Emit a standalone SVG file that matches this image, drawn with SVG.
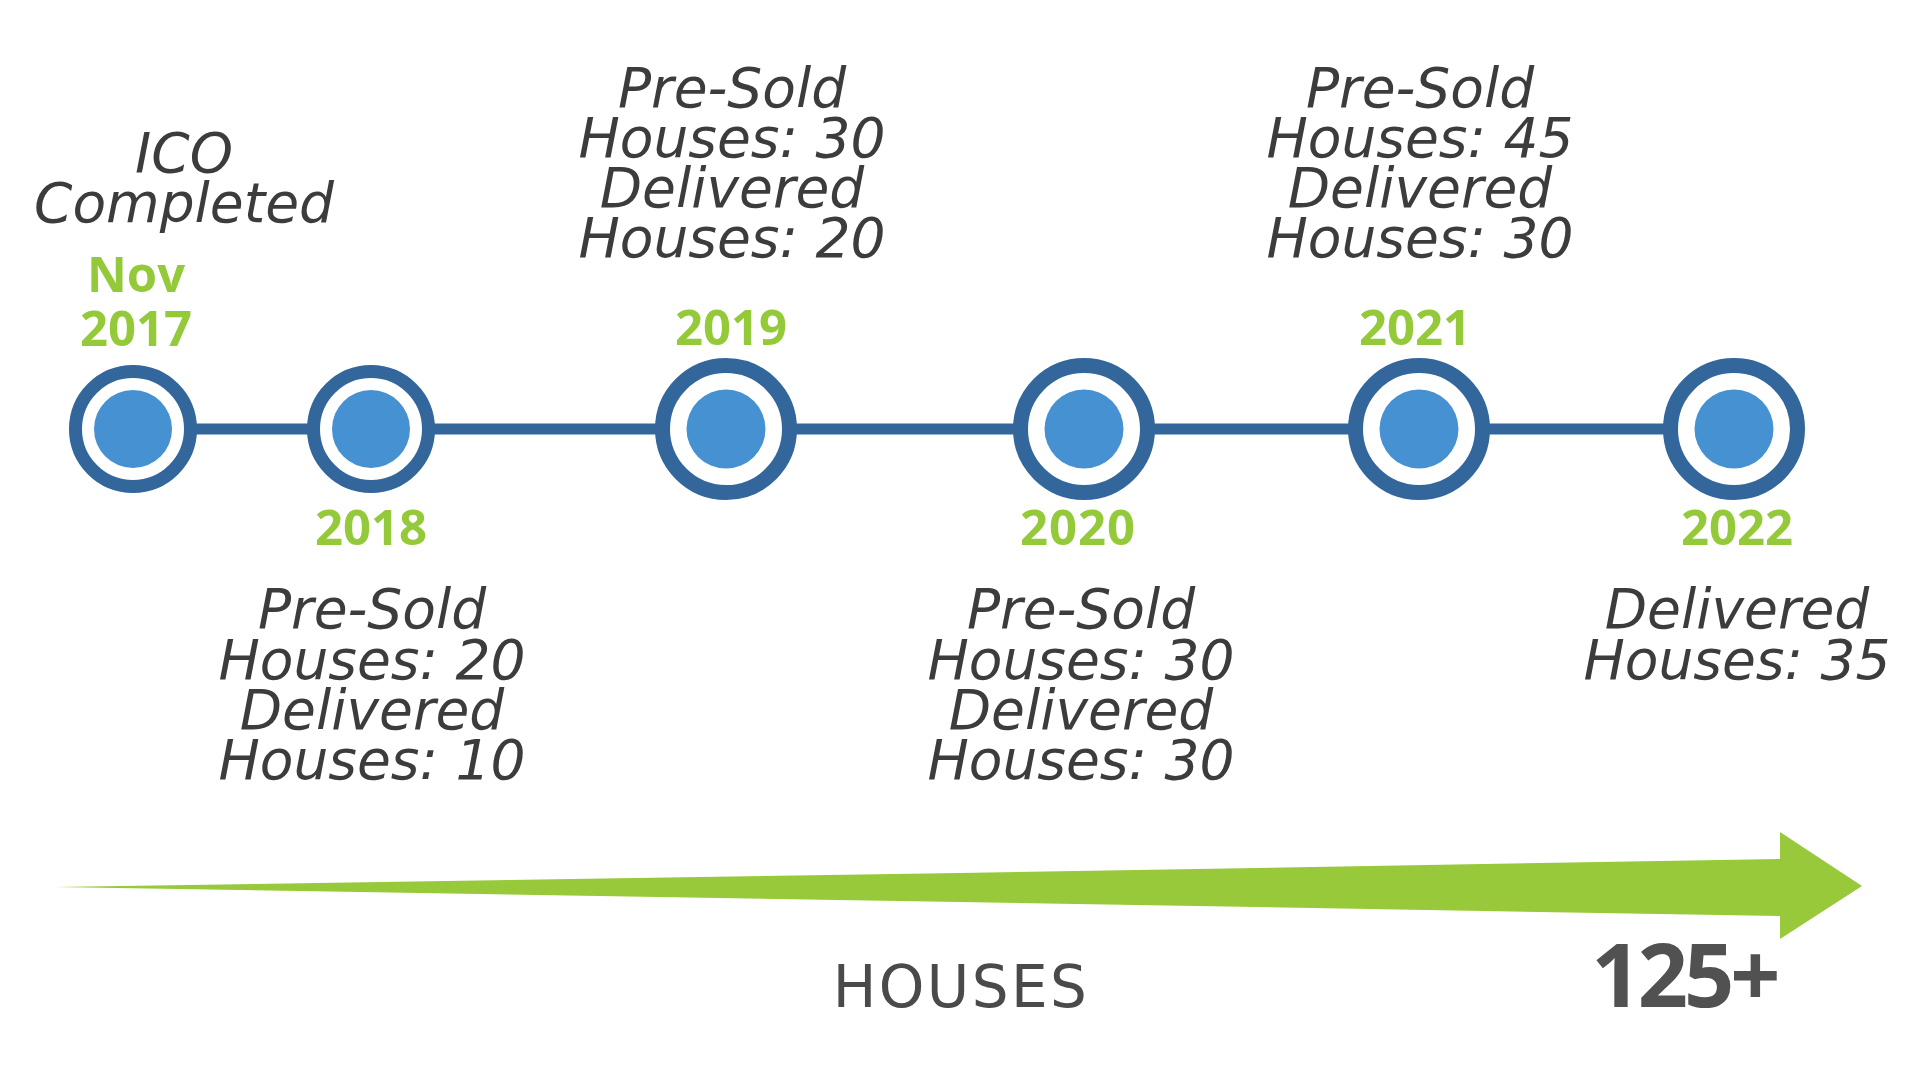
<svg xmlns="http://www.w3.org/2000/svg" width="1920" height="1080" viewBox="0 0 1920 1080">
<style>
.lbl{font-family:"DejaVu Sans","Liberation Sans",sans-serif;font-style:italic;font-size:55px;fill:#3c3c3c;text-anchor:middle}
.yr{font-family:"Open Sans","Liberation Sans",sans-serif;font-weight:700;font-size:49px;fill:#94c93a;text-anchor:middle}
.ring{fill:#ffffff;stroke:#33679c}
.dot{fill:#4591d1}
.link{stroke:#33679c;stroke-width:11;fill:none}
</style>
<rect width="1920" height="1080" fill="#ffffff"/>
<g id="connectors">
<line class="link" x1="133" y1="429" x2="1734" y2="429"/>
</g>
<g id="node-2017">
<circle class="ring" cx="133" cy="429" r="57.5" stroke-width="13"/>
<circle class="dot" cx="133" cy="429" r="39"/>
<text class="yr" x="136" y="292">Nov</text>
<text class="yr" x="136" y="346">2017</text>
<text class="lbl" x="184" y="172">ICO</text>
<text class="lbl" x="184" y="222">Completed</text>
</g>
<g id="node-2018">
<circle class="ring" cx="371" cy="429" r="57.5" stroke-width="13"/>
<circle class="dot" cx="371" cy="429" r="39"/>
<text class="yr" x="371" y="545">2018</text>
<text class="lbl" x="372" y="628">Pre-Sold</text>
<text class="lbl" x="372" y="679">Houses: 20</text>
<text class="lbl" x="372" y="729">Delivered</text>
<text class="lbl" x="372" y="779">Houses: 10</text>
</g>
<g id="node-2019">
<circle class="ring" cx="726" cy="429" r="63.5" stroke-width="15"/>
<circle class="dot" cx="726" cy="429" r="39.5"/>
<text class="yr" x="731" y="345">2019</text>
<text class="lbl" x="732" y="107">Pre-Sold</text>
<text class="lbl" x="732" y="157">Houses: 30</text>
<text class="lbl" x="732" y="207">Delivered</text>
<text class="lbl" x="732" y="257">Houses: 20</text>
</g>
<g id="node-2020">
<circle class="ring" cx="1084" cy="429" r="63.5" stroke-width="15"/>
<circle class="dot" cx="1084" cy="429" r="39.5"/>
<text class="yr" x="1078" y="545" letter-spacing="1">2020</text>
<text class="lbl" x="1081" y="628">Pre-Sold</text>
<text class="lbl" x="1081" y="679">Houses: 30</text>
<text class="lbl" x="1081" y="729">Delivered</text>
<text class="lbl" x="1081" y="779">Houses: 30</text>
</g>
<g id="node-2021">
<circle class="ring" cx="1419" cy="429" r="63.5" stroke-width="15"/>
<circle class="dot" cx="1419" cy="429" r="39.5"/>
<text class="yr" x="1415" y="345">2021</text>
<text class="lbl" x="1420" y="107">Pre-Sold</text>
<text class="lbl" x="1420" y="157">Houses: 45</text>
<text class="lbl" x="1420" y="207">Delivered</text>
<text class="lbl" x="1420" y="257">Houses: 30</text>
</g>
<g id="node-2022">
<circle class="ring" cx="1734" cy="429" r="63.5" stroke-width="15"/>
<circle class="dot" cx="1734" cy="429" r="39.5"/>
<text class="yr" x="1737" y="545">2022</text>
<text class="lbl" x="1737" y="628">Delivered</text>
<text class="lbl" x="1737" y="679">Houses: 35</text>
</g>
<g id="growth-arrow">
<polygon fill="#97c93a" points="55,887 960,873 1780,859 1780,832 1862,886 1780,939 1780,916 960,902"/>
<text x="961" y="1007" font-family="DejaVu Sans, sans-serif" font-size="58" letter-spacing="2.4" fill="#4a4a4a" text-anchor="middle">HOUSES</text>
<text x="1684" y="1007" font-family="Open Sans, sans-serif" font-weight="700" font-size="88" letter-spacing="-4" fill="#515151" text-anchor="middle">125+</text>
</g>
</svg>
